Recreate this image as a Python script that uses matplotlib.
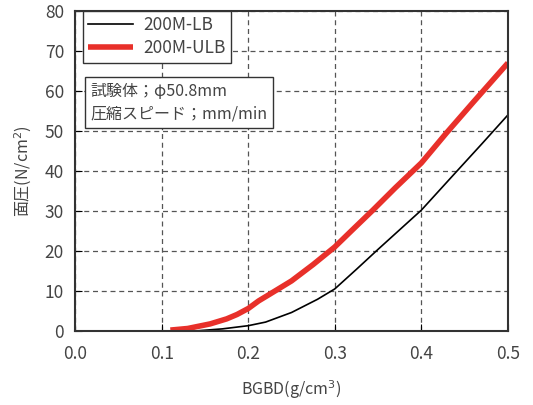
import matplotlib.pyplot as plt

plt.rcParams['font.family'] = ['Noto Sans CJK JP', 'DejaVu Sans']

lb_x = [0.14, 0.17, 0.20, 0.22, 0.25, 0.28, 0.30, 0.325, 0.35, 0.375, 0.40, 0.44, 0.47, 0.50]
lb_y = [0.0, 0.5, 1.3, 2.2, 4.6, 7.9, 10.5, 15.4, 20.4, 25.3, 30.2, 39.7, 46.8, 54.0]
ulb_x = [0.11, 0.13, 0.156, 0.175, 0.187, 0.20, 0.212, 0.225, 0.25, 0.275, 0.30, 0.32, 0.344, 0.37,
         0.40, 0.429, 0.46, 0.50]
ulb_y = [0.2, 0.6, 1.75, 3.0, 4.1, 5.6, 7.5, 9.2, 12.5, 16.6, 21.0, 25.2, 30.2, 35.8,
         42.0, 49.5, 57.2, 67.0]

txt = '#444444'
fig = plt.figure(figsize=(5.33, 4.05), dpi=100)
ax = fig.add_axes([0.141, 0.183, 0.812, 0.790])
ax.plot(lb_x, lb_y, color='black', lw=1.2, label='200M-LB')
ax.plot(ulb_x, ulb_y, color='#e8302a', lw=4, label='200M-ULB', solid_capstyle='butt')
ax.set_xlim(0, 0.5)
ax.set_ylim(0, 80)
ax.set_xticks([0, 0.1, 0.2, 0.3, 0.4, 0.5])
ax.set_xticklabels(['0.0', '0.1', '0.2', '0.3', '0.4', '0.5'])
ax.set_yticks(range(0, 90, 10))
ax.tick_params(direction='in', labelsize=12.5, labelcolor=txt, length=5, pad=8)
ax.tick_params(axis='x', pad=10)
ax.grid(True, linestyle=(0, (4, 3)), color='#555555', lw=0.9)
for s in ax.spines.values():
    s.set_linewidth(1.5)
    s.set_color('#333333')
ax.set_xlabel('BGBD(g/cm$^3$)', fontsize=11.5, color=txt, labelpad=11)
ax.set_ylabel('面圧(N/cm$^2$)', fontsize=11.5, color=txt, labelpad=8)
leg = ax.legend(loc='upper left', bbox_to_anchor=(0.018, 1.0), fontsize=12.5, fancybox=False,
                framealpha=1, edgecolor='#333333', borderaxespad=0.0, handlelength=2.6,
                handletextpad=0.6, borderpad=0.3, labelspacing=0.3)
leg.get_frame().set_linewidth(1.0)
for t in leg.get_texts():
    t.set_color(txt)
ax.text(0.035, 0.775, '試験体；φ50.8mm\n圧縮スピード；mm/min', transform=ax.transAxes,
        fontsize=11.5, color=txt, va='top', ha='left', linespacing=1.45,
        bbox=dict(boxstyle='square,pad=0.35', fc='white', ec='#333333', lw=1))
fig.savefig('out.png', dpi=100)
